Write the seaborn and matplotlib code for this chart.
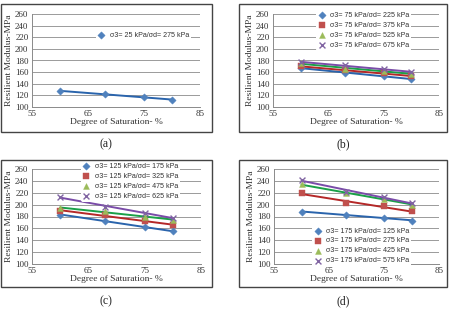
import numpy as np
import pandas as pd
import seaborn as sns
import matplotlib.pyplot as plt
from matplotlib.patches import Rectangle

saturation = [60, 68, 75, 80]

# panel (a)
a_labels = ["σ3= 25 kPa/σd= 275 kPa"]
a_vals = [[127, 123, 117, 112]]

# panel (b)
b_labels = ["σ3= 75 kPa/σd= 225 kPa", "σ3= 75 kPa/σd= 375 kPa",
            "σ3= 75 kPa/σd= 525 kPa", "σ3= 75 kPa/σd= 675 kPa"]
b_vals = [[167, 159, 153, 148],
          [170, 163, 158, 153],
          [175, 166, 162, 157],
          [177, 172, 165, 160]]

# panel (c)
c_labels = ["σ3= 125 kPa/σd= 175 kPa", "σ3= 125 kPa/σd= 325 kPa",
            "σ3= 125 kPa/σd= 475 kPa", "σ3= 125 kPa/σd= 625 kPa"]
c_vals = [[183, 173, 162, 155],
          [190, 182, 172, 166],
          [194, 189, 180, 174],
          [213, 196, 186, 178]]

# panel (d)
d_labels = ["σ3= 175 kPa/σd= 125 kPa", "σ3= 175 kPa/σd= 275 kPa",
            "σ3= 175 kPa/σd= 425 kPa", "σ3= 175 kPa/σd= 575 kPa"]
d_vals = [[188, 183, 178, 173],
          [220, 202, 197, 189],
          [234, 219, 210, 200],
          [242, 222, 212, 203]]

marker_colors = ["#4F81BD", "#C0504D", "#9BBB59", "#8064A2"]
line_colors = ["#2A64AC", "#B42828", "#1AA048", "#7A4CA8"]
markers = ["D", "s", "^", "x"]
msizes = [14, 16, 18, 18]

sns.set_theme(style="white")
plt.rcParams["font.family"] = "Liberation Serif"

fig = plt.figure(figsize=(4.53, 3.09), dpi=100)
W, H = 453.0, 309.0


def px_axes(x0, x1, ytop, ybot):
    return fig.add_axes([x0 / W, 1 - ybot / H, (x1 - x0) / W, (ybot - ytop) / H])


panels = [
    (a_labels, a_vals, "Resilient Modulus-MPa", (32, 200, 14, 107), (0.36, 0.86), "(a)"),
    (b_labels, b_vals, "Resilient Modulus-MPa", (273, 439, 14, 107), (0.24, 1.08), "(b)"),
    (c_labels, c_vals, "Resilient Modulus-MPa", (32, 201, 169, 264), (0.27, 1.12), "(c)"),
    (d_labels, d_vals, "Resilient Modulus-MPa", (274, 439, 169, 264), (0.21, 0.44), "(d)"),
]
frames = [(1, 212, 4, 132), (239, 447, 4, 132), (1, 212, 160, 287), (239, 447, 160, 287)]
caption_pos = [(106, 144), (343, 144), (106, 301), (343, 301)]

for (labels, vals, ylab, box, leg_xy, cap), fr, cp in zip(panels, frames, caption_pos):
    ax = px_axes(*box)
    for i, (lab, v) in enumerate(zip(labels, vals)):
        df = pd.DataFrame({"x": saturation, "y": v})
        sns.regplot(data=df, x="x", y="y", ax=ax, scatter=False, ci=None,
                    truncate=True, color=line_colors[i], line_kws={"lw": 1.4})
        sns.scatterplot(data=df, x="x", y="y", ax=ax, marker=markers[i],
                        color=marker_colors[i], s=msizes[i], edgecolor=marker_colors[i]
                        if markers[i] != "x" else None, linewidth=1.0 if markers[i] == "x" else 0.3,
                        label=lab, zorder=3)
    ax.set_xlim(55, 85)
    ax.set_ylim(100, 260)
    ax.set_xticks([55, 65, 75, 85])
    ax.set_yticks(np.arange(100, 261, 20))
    ax.yaxis.grid(True, color="#9a9a9a", lw=0.7)
    ax.xaxis.grid(False)
    for s in ["top", "right"]:
        ax.spines[s].set_visible(False)
    for s in ["left", "bottom"]:
        ax.spines[s].set_color("#8a8a8a")
        ax.spines[s].set_linewidth(0.7)
    ax.tick_params(axis="both", labelsize=6.5, length=0, pad=2.5, colors="#333333")
    ax.set_xlabel("Degree of Saturation- %", fontsize=6.8, labelpad=0, color="#333333")
    ax.set_ylabel(ylab, fontsize=6.8, labelpad=1.5, color="#333333")
    leg = ax.legend(loc="upper left", bbox_to_anchor=leg_xy, frameon=True,
                    prop={"family": "Liberation Sans", "size": 5.1},
                    handletextpad=0.7, labelspacing=0.42, borderpad=0.25,
                    handlelength=1.0, markerscale=1.0)
    leg.get_frame().set_facecolor("white")
    leg.get_frame().set_edgecolor("none")
    leg.get_frame().set_alpha(1)
    leg.set_zorder(5)
    for t in leg.get_texts():
        t.set_color("#333333")
    x0, x1, y0, y1 = fr
    fig.add_artist(Rectangle((x0 / W, 1 - y1 / H), (x1 - x0) / W, (y1 - y0) / H,
                             transform=fig.transFigure, fill=False,
                             edgecolor="#444444", lw=1.0))
    fig.text(cp[0] / W, 1 - cp[1] / H, cap, ha="center", va="center",
             fontsize=8.5, color="#222222")

fig.savefig("out.png", dpi=100)
